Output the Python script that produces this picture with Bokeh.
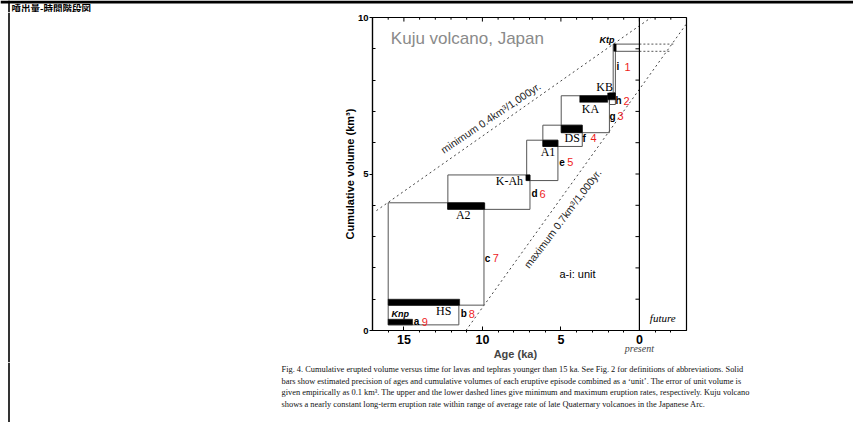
import math
from bokeh.plotting import figure
from bokeh.layouts import column, row
from bokeh.models import Range1d, LinearAxis, FixedTicker, Span
from bokeh.core.properties import value
from bokeh.embed import file_html
from bokeh.resources import INLINE

# ---------------- data ----------------
page_title = "噴出量-時間階段図"
plot_title = "Kuju volcano, Japan"
x_label = "Age (ka)"
x_label_at = 7.9           # age under which the x label is centred
y_label = "Cumulative volume (km³)"
present_label = "present"
x_ticks = [15, 10, 5, 0]
x_minor = [16, 14, 13, 12, 11, 9, 8, 7, 6, 4, 3, 2, 1, -1, -2]
y_ticks = [0, 5, 10]
y_minor = [1, 2, 3, 4, 6, 7, 8, 9]

# outlined unit boxes (age in ka, volume in km3)
box_old = [16.0, 16.0, 12.2, 7.18, 6.15, 4.98, 1.91, 1.67]
box_young = [11.5, 9.9, 6.97, 5.19, 3.64, 1.91, 1.53, 1.53]
box_low = [0.18, 0.81, 3.87, 4.79, 5.88, 6.32, 7.22, 7.59]
box_high = [0.81, 4.08, 4.97, 6.08, 6.56, 7.50, 7.59, 9.15]

# solid bars of eruptive episodes
bar_old = [16.0, 16.0, 12.22, 7.23, 6.15, 4.98, 3.80, 2.02, 1.63]
bar_young = [14.45, 11.45, 9.85, 6.97, 5.19, 3.64, 2.02, 1.53, 1.48]
bar_low = [0.18, 0.81, 3.87, 4.79, 5.88, 6.32, 7.29, 7.37, 8.92]
bar_high = [0.36, 1.00, 4.08, 4.97, 6.08, 6.56, 7.50, 7.59, 9.15]

# episode names
episode_names = ["HS", "A2", "K-Ah", "A1", "DS", "KA", "KB"]
episode_age = [12.46, 11.22, 8.28, 5.82, 4.28, 3.12, 2.22]
episode_vol = [0.62, 3.68, 4.79, 5.71, 6.14, 7.09, 7.79]
tephra_names = ["Knp", "Ktp"]
tephra_age = [15.23, 2.07]
tephra_vol = [0.54, 9.27]

# unit letters and numbers
unit_letters = ["a", "b", "c", "d", "e", "f", "g", "h", "i"]
unit_numbers = ["9", "8", "7", "6", "5", "4", "3", "2", "1"]
unit_age = [14.37, 11.38, 9.85, 6.88, 5.10, 3.62, 1.91, 1.53, 1.46]
unit_vol = [0.28, 0.54, 2.31, 4.37, 5.37, 6.14, 6.84, 7.34, 8.43]

# extension of the last unit into the future
ext_vol = [9.15, 8.92]
ext_start = [1.53, 1.53]
ext_present = [0.0, 0.0]
ext_end = [-2.16, -1.97]

# eruption-rate lines
min_age = [16.75, -0.75]
min_vol = [3.83, 10.0]
max_age = [11.05, -3.0]
max_vol = [0.0, 9.8]
min_text = "minimum 0.4km³/1,000yr."
max_text = "maximum 0.7km³/1,000yr."
present_ticks = [1, 2, 3, 4, 5, 6, 7, 8, 9]

caption = [
    "Fig. 4. Cumulative erupted volume versus time for lavas and tephras younger than 15 ka. See Fig. 2 for definitions of abbreviations. Solid",
    "bars show estimated precision of ages and cumulative volumes of each eruptive episode combined as a \u2018unit\u2019. The error of unit volume is",
    "given empirically as 0.1 km\u00b3. The upper and the lower dashed lines give minimum and maximum eruption rates, respectively. Kuju volcano",
    "shows a nearly constant long-term eruption rate within range of average rate of late Quaternary volcanoes in the Japanese Arc.",
]

# ---------------- page geometry (page pixels) ----------------
PX0, PX1 = 0, 853
PY1 = 422
SPLIT = 330                 # border between left panel and chart
RULE = 3                    # thickness of the page's top rule
HEAD_BOTTOM = 12
MAIN_BOTTOM = 362
FRAME_L, FRAME_R, FRAME_T, FRAME_B = 372, 686, 17, 333
BORDER_X = 8.5


def blank(x0, x1, y0, y1):
    f = figure(width=x1 - x0, height=y1 - y0, x_range=Range1d(x0, x1),
               y_range=Range1d(y1, y0), output_backend="svg", toolbar_location=None,
               min_border=0, min_border_left=0, min_border_right=0, min_border_top=0,
               min_border_bottom=0, x_axis_location=None, y_axis_location=None,
               background_fill_color="white", border_fill_color="white")
    f.outline_line_color = None
    f.xgrid.visible = False
    f.ygrid.visible = False
    return f


# ---- header: top rule, page title, page border ----
head = blank(PX0, PX1, 0, HEAD_BOTTOM)
head.line([PX0, PX1], [RULE / 2, RULE / 2], line_color="black", line_width=RULE)
head.line([BORDER_X, BORDER_X], [0, HEAD_BOTTOM], line_color="black", line_width=1.6)
head.text(x=[11], y=[7.6], text=[page_title], text_font=value("Noto Sans CJK JP"),
          text_font_size=value("9.5px"), text_font_style="bold", text_color="black",
          text_align="left", text_baseline="middle")

# ---- left panel: page border ----
left = blank(PX0, SPLIT, HEAD_BOTTOM, MAIN_BOTTOM)
left.line([BORDER_X, BORDER_X], [HEAD_BOTTOM, MAIN_BOTTOM], line_color="black", line_width=1.6)

# ---- main chart ----
p = figure(width=PX1 - SPLIT, height=MAIN_BOTTOM - HEAD_BOTTOM,
           x_range=Range1d(17, -3), y_range=Range1d(0, 10),
           output_backend="svg", toolbar_location=None,
           min_border_left=FRAME_L - SPLIT, min_border_right=PX1 - FRAME_R,
           min_border_top=FRAME_T - HEAD_BOTTOM, min_border_bottom=MAIN_BOTTOM - FRAME_B,
           background_fill_color="white", border_fill_color="white")
p.xgrid.visible = False
p.ygrid.visible = False
p.outline_line_color = "black"
p.outline_line_width = 1.2

xa = p.xaxis[0]
xa.ticker = FixedTicker(ticks=x_ticks, minor_ticks=x_minor)
xa.major_tick_in = 4
xa.major_tick_out = 0
xa.minor_tick_in = 0
xa.minor_tick_out = 2
xa.major_label_standoff = 2
xa.major_label_text_font_size = "12.5px"
ya = p.yaxis[0]
ya.ticker = FixedTicker(ticks=y_ticks, minor_ticks=y_minor)
ya.major_tick_in = 0
ya.major_tick_out = 3
ya.minor_tick_in = 3
ya.minor_tick_out = 0
ya.major_label_standoff = 1
ya.major_label_text_font_size = "9.5px"
ya.axis_label = y_label
ya.axis_label_standoff = -1
ya.axis_label_text_font = "Liberation Sans"
ya.axis_label_text_font_style = "bold"
ya.axis_label_text_font_size = "11px"
ya.axis_label_text_color = "black"
for ax in (xa, ya):
    ax.axis_line_color = "black"
    ax.axis_line_width = 1.2
    ax.major_label_text_font = "Liberation Sans"
    ax.major_label_text_font_style = "bold"
    ax.major_label_text_color = "black"
    ax.major_tick_line_color = "black"
    ax.minor_tick_line_color = "black"

# second and third bottom axes carry the 'present' note and the axis title
present_axis = LinearAxis(ticker=FixedTicker(ticks=[0]), major_label_overrides={0: present_label},
                          major_label_text_font="Liberation Serif",
                          major_label_text_font_style="italic",
                          major_label_text_font_size="10px", major_label_standoff=-4,
                          major_tick_in=0, major_tick_out=0, axis_line_color=None,
                          major_tick_line_color=None, minor_tick_line_color=None)
p.add_layout(present_axis, "below")
title_axis = LinearAxis(ticker=FixedTicker(ticks=[x_label_at]),
                        major_label_overrides={x_label_at: x_label},
                        major_label_text_font="Liberation Sans",
                        major_label_text_font_style="bold",
                        major_label_text_font_size="11px", major_label_standoff=-9,
                        major_tick_in=0, major_tick_out=0, axis_line_color=None,
                        major_tick_line_color=None, minor_tick_line_color=None)
p.add_layout(title_axis, "below")

# top ticks pointing into the plot
p.segment(x0=x_ticks, x1=x_ticks, y0=[10] * len(x_ticks), y1=[9.87] * len(x_ticks),
          line_color="black", line_width=1)
p.segment(x0=x_minor, x1=x_minor, y0=[10] * len(x_minor), y1=[9.93] * len(x_minor),
          line_color="black", line_width=1)

# present line with its ticks
p.add_layout(Span(location=0, dimension="height", line_color="black", line_width=1.2))
p.segment(x0=[0] * len(present_ticks), x1=[0.25] * len(present_ticks),
          y0=present_ticks, y1=present_ticks, line_color="black", line_width=1)

# rate lines
p.line(min_age, min_vol, line_color="#444444", line_width=1, line_dash="2 3")
p.line(max_age, max_vol, line_color="#444444", line_width=1, line_dash="2 3")

# future extension
p.segment(x0=ext_start, x1=ext_present, y0=ext_vol, y1=ext_vol, line_color="#555555", line_width=1)
p.segment(x0=ext_present, x1=ext_end, y0=ext_vol, y1=ext_vol, line_color="#555555",
          line_width=1, line_dash="2 2")

# boxes and bars
p.quad(left=box_old, right=box_young, bottom=box_low, top=box_high,
       fill_alpha=0, line_color="#555555", line_width=1)
p.quad(left=bar_old, right=bar_young, bottom=bar_low, top=bar_high,
       fill_color="black", line_color="black", line_width=0.5)

# texts inside the plot
p.text(x=[15.83], y=[9.34], text=[plot_title], text_font=value("Liberation Sans"),
       text_font_size=value("17px"), text_color="#8a8a8a", text_align="left",
       text_baseline="middle")
p.text(x=episode_age, y=episode_vol, text=episode_names, text_font=value("Liberation Serif"),
       text_font_size=value("12px"), text_color="black", text_align="center",
       text_baseline="middle")
p.text(x=tephra_age, y=tephra_vol, text=tephra_names, text_font=value("Liberation Sans"),
       text_font_size=value("9px"), text_font_style="bold italic", text_color="black",
       text_align="center", text_baseline="middle")
p.text(x=unit_age, y=unit_vol, text=unit_letters, text_font=value("Liberation Sans"),
       text_font_size=value("10px"), text_font_style="bold", text_color="black",
       text_align="left", text_baseline="middle")
p.text(x=unit_age, y=unit_vol, text=unit_numbers, text_font=value("Liberation Sans"),
       text_font_size=value("11px"), text_color="#ee1c1c", x_offset=8,
       text_align="left", text_baseline="middle")
p.text(x=[9.47], y=[6.80], text=[min_text], angle=[math.radians(34)],
       text_font=value("Liberation Sans"), text_font_size=value("10.5px"),
       text_color="#222222", text_align="center", text_baseline="middle")
p.text(x=[4.9], y=[3.58], text=[max_text], angle=[math.radians(53)],
       text_font=value("Liberation Sans"), text_font_size=value("10.5px"),
       text_color="#222222", text_align="center", text_baseline="middle")
p.text(x=[5.09], y=[1.8], text=["a-i: unit"], text_font=value("Liberation Sans"),
       text_font_size=value("11px"), text_color="black", text_align="left",
       text_baseline="middle")
p.text(x=[-1.49], y=[0.39], text=["future"], text_font=value("Liberation Serif"),
       text_font_size=value("11px"), text_font_style="italic", text_color="black",
       text_align="center", text_baseline="middle")

# ---- caption panel ----
cap = blank(PX0, PX1, MAIN_BOTTOM, PY1)
cap.line([BORDER_X, BORDER_X], [MAIN_BOTTOM, PY1], line_color="black", line_width=1.6)
cap_y = [369 + 11.7 * i for i in range(len(caption))]
cap.text(x=[281] * len(caption), y=cap_y, text=caption, text_font=value("Liberation Serif"),
         text_font_size=value("8.4px"), text_color="#111111", text_align="left",
         text_baseline="middle")

layout = column(head, row(left, column(p)), cap)
open("out.html", "w").write(file_html(layout, INLINE))
